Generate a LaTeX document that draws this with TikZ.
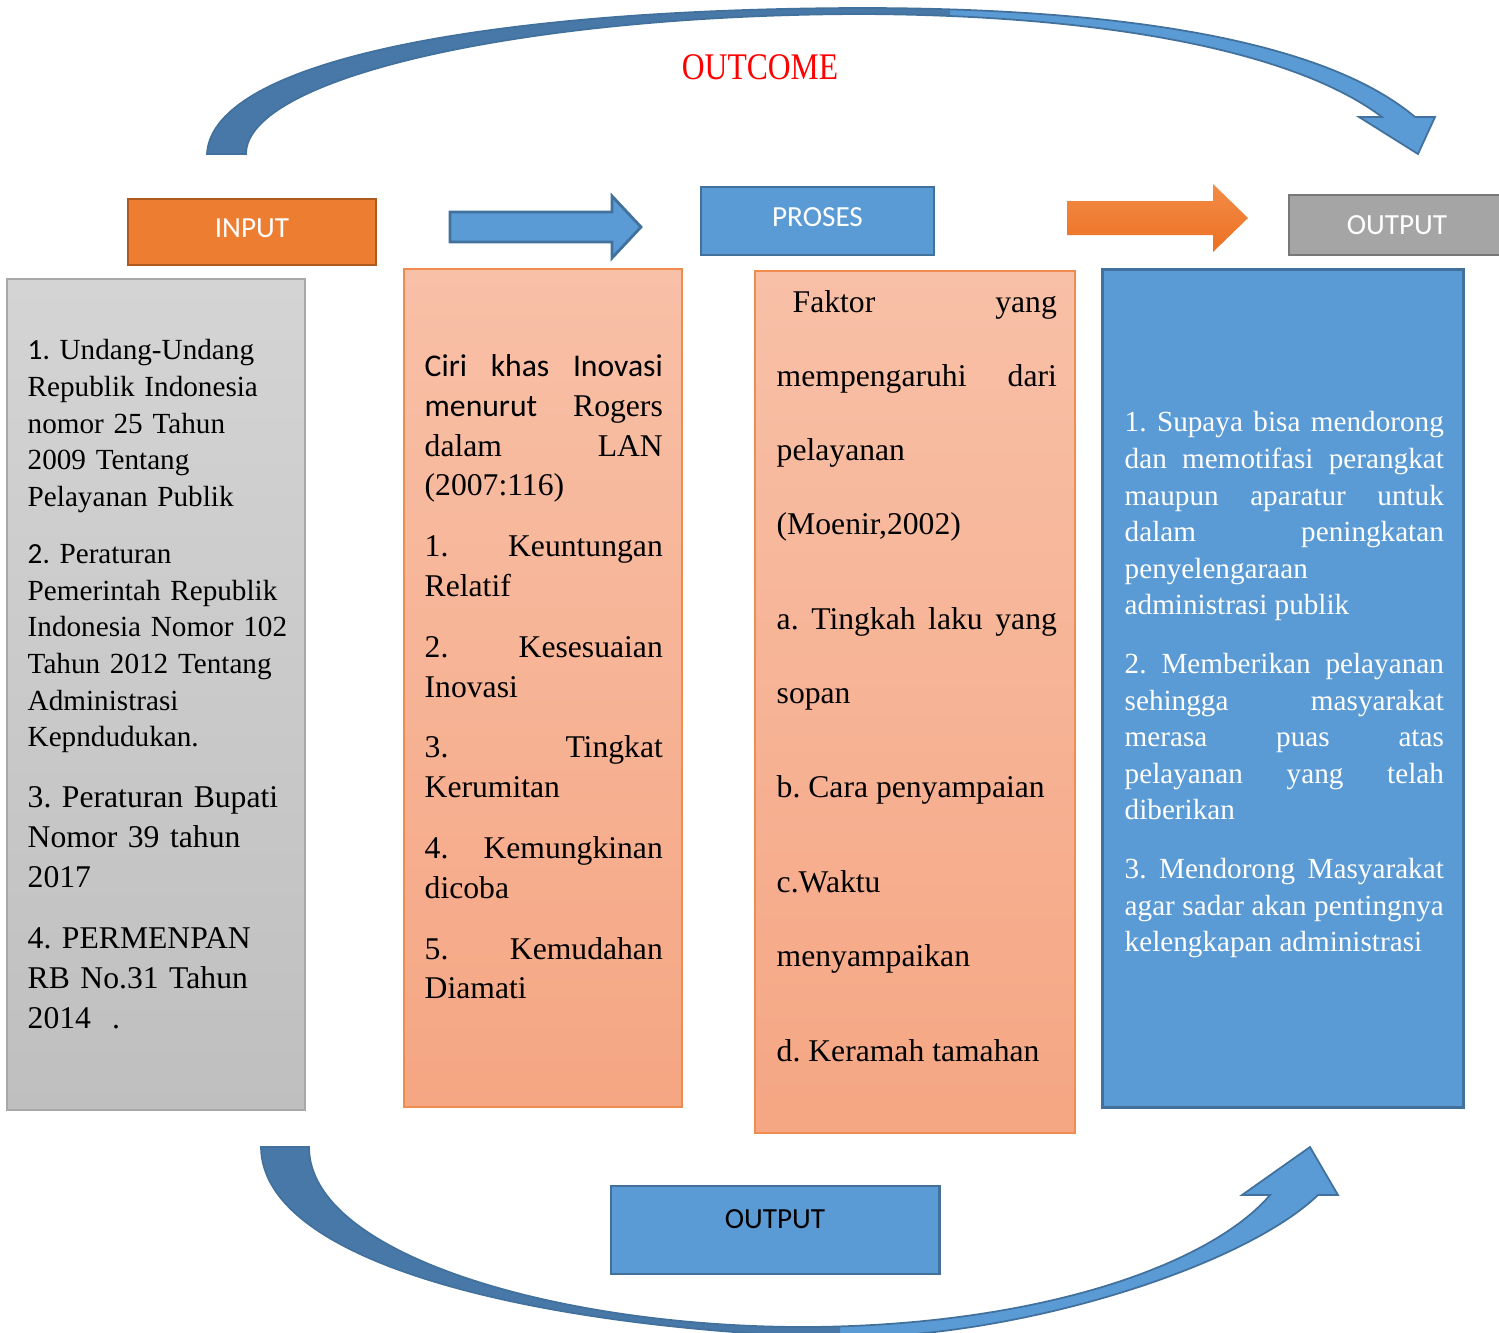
\documentclass[tikz,border=0pt]{standalone}
\usepackage{fontspec}
\setmainfont{Liberation Serif}
\newfontfamily\calibri{Carlito}
\newfontfamily\narrowserif[FakeStretch=0.84]{Liberation Serif}
\usetikzlibrary{positioning}

\definecolor{BoxBlue}{RGB}{91,155,213}
\definecolor{BoxBlueLine}{RGB}{65,113,156}
\definecolor{ArcDark}{RGB}{71,120,168}
\definecolor{BoxOrange}{RGB}{237,125,49}
\definecolor{BoxOrangeLine}{RGB}{174,90,33}
\definecolor{BoxGray}{RGB}{165,165,165}
\definecolor{BoxGrayLine}{RGB}{120,120,120}
\definecolor{GrayTop}{RGB}{212,212,212}
\definecolor{GrayBottom}{RGB}{191,191,191}
\definecolor{GrayLine}{RGB}{168,168,168}
\definecolor{PeachTop}{RGB}{248,192,167}
\definecolor{PeachBottom}{RGB}{245,166,131}
\definecolor{PeachLine}{RGB}{241,140,80}
\definecolor{ArrowTop}{RGB}{243,140,70}
\definecolor{ArrowBottom}{RGB}{236,112,34}

\newcommand*\smalltext{\fontsize{8.3}{10.4}\selectfont}
\newcommand*\midtext{\fontsize{9}{11.3}\selectfont}
\newcommand*\widetext{\fontsize{9}{21}\selectfont}
\tolerance=10000
\frenchspacing

% the two curved arrows, in pixel units of the picture
\newcommand*\topband{(207,154) .. controls (212,60) and (490,9) .. (860,8)
  .. controls (1140,8) and (1330,45) .. (1415,117) -- (1435,117) -- (1418,154)
  -- (1359,117) -- (1382,117) .. controls (1300,55) and (1120,15) .. (860,14)
  .. controls (520,15) and (246,78) .. (246,154) -- cycle}
\newcommand*\bottomband{(261,1147) .. controls (262,1260) and (520,1325) .. (820,1337)
  .. controls (1000,1344) and (1240,1270) .. (1318,1195) -- (1338,1195) -- (1310,1147)
  -- (1242,1195) -- (1270,1195) .. controls (1210,1265) and (1040,1325) .. (810,1327)
  .. controls (560,1328) and (309,1255) .. (309,1147) -- cycle}

\tikzset{
  headbox/.style={draw, line width=0.8pt, text=white, font=\calibri\fontsize{8.3}{10}\selectfont},
  listbox/.style={draw, line width=0.5pt},
  para/.style={anchor=north west, inner sep=0pt, text width=#1, align=left},
  justpara/.style={para=#1, align=justify},
}

\begin{document}
\frenchspacing
\begin{tikzpicture}[x=0.01cm, y=-0.01cm]
\useasboundingbox (0,0) rectangle (1499,1332);
\clip (0,0) rectangle (1499,1332);

% curved arrows
\fill[BoxBlue] \topband;
\begin{scope}
  \clip (0,0) rectangle (950,170);
  \fill[ArcDark] \topband;
\end{scope}
\draw[BoxBlueLine, line width=0.5pt] \topband;

\fill[BoxBlue] \bottomband;
\begin{scope}
  \clip (0,1100) rectangle (840,1340);
  \fill[ArcDark] \bottomband;
\end{scope}
\draw[BoxBlueLine, line width=0.5pt] \bottomband;

\node[text=red, font=\narrowserif\fontsize{10.7}{12}\selectfont] (outcome) at (760,67) {OUTCOME};

% header boxes
\node[headbox, fill=BoxOrange, draw=BoxOrangeLine, minimum width=2.48cm, minimum height=0.66cm, text height=6pt, text depth=2.6pt] (input) at (252,232) {INPUT};
\node[headbox, fill=BoxBlue, draw=BoxBlueLine, minimum width=2.33cm, minimum height=0.68cm, text height=6pt, text depth=3pt] (proses) at (817.5,221) {PROSES};
\node[headbox, fill=BoxGray, draw=BoxGrayLine, minimum width=2.16cm, minimum height=0.6cm] (output) at (1397,225) {OUTPUT};
\node[headbox, fill=BoxBlue, draw=BoxBlueLine, text=black, minimum width=3.28cm, minimum height=0.88cm, text height=6pt, text depth=6.8pt] (outputbottom) at (775,1230) {OUTPUT};

% block arrows
\draw[BoxBlueLine, fill=BoxBlue, line width=0.8pt] (450,212) -- (612,212) -- (612,196) -- (641,227) -- (612,258) -- (612,242) -- (450,242) -- cycle;
\shade[top color=ArrowTop, bottom color=ArrowBottom] (1067,201) -- (1213,201) -- (1213,184) -- (1248,218) -- (1213,252) -- (1213,235) -- (1067,235) -- cycle;

% the four columns
\node[listbox, draw=GrayLine, top color=GrayTop, bottom color=GrayBottom, minimum width=2.98cm, minimum height=8.31cm] (law) at (156,694.5) {};
\node[listbox, draw=PeachLine, top color=PeachTop, bottom color=PeachBottom, minimum width=2.78cm, minimum height=8.38cm] (inovasi) at (543,688) {};
\node[listbox, draw=PeachLine, top color=PeachTop, bottom color=PeachBottom, minimum width=3.2cm, minimum height=8.62cm] (faktor) at (915,702) {};
\node[listbox, draw=BoxBlueLine, fill=BoxBlue, line width=0.8pt, minimum width=3.6cm, minimum height=8.37cm] (tujuan) at (1283,688.5) {};

% input column
\node[para=2.7cm, font=\smalltext] (law1) at (27,339) {{\calibri 1.} Undang-Undang\\ Republik Indonesia\\ nomor 25 Tahun\\ 2009 Tentang\\ Pelayanan Publik};
\node[para=2.7cm, font=\smalltext] (law2) at (27,544) {{\calibri 2.} Peraturan\\ Pemerintah Republik\\ Indonesia Nomor 102\\ Tahun 2012 Tentang\\ Administrasi\\ Kepndudukan.};
\node[para=2.7cm, font=\midtext] (law3) at (27,786) {3. Peraturan Bupati\\ Nomor 39 tahun\\ 2017};
\node[para=2.7cm, font=\midtext] (law4) at (27,927) {4. PERMENPAN\\ RB No.31 Tahun\\ 2014~~.};

% process columns
\node[justpara=2.38cm, font=\midtext] (inovasitext) at (424,354) {{\calibri Ciri khas Inovasi}\linebreak {\calibri menurut} Rogers\linebreak dalam LAN\linebreak (2007:116)\\[6pt]
  1. Keuntungan\linebreak Relatif\\[6pt]
  2. Kesesuaian\linebreak Inovasi\\[6pt]
  3. Tingkat\linebreak Kerumitan\\[6pt]
  4. Kemungkinan\linebreak dicoba\\[6pt]
  5. Kemudahan\linebreak Diamati};

\node[justpara=2.8cm, font=\widetext] (faktortext) at (776,290) {\hspace*{0.16cm}Faktor yang\linebreak mempengaruhi dari\linebreak pelayanan\\ (Moenir,2002)\\[6pt]
  a. Tingkah laku yang\linebreak sopan\\[6pt]
  b. Cara penyampaian\\[6pt]
  c.Waktu\\ menyampaikan\\[6pt]
  d. Keramah tamahan};

% output column
\node[justpara=3.19cm, font=\smalltext, text=white] (tujuantext) at (1124,411) {1. Supaya bisa mendorong\linebreak dan memotifasi perangkat\linebreak maupun aparatur untuk\linebreak dalam peningkatan\linebreak penyelengaraan\\ administrasi publik\\[6.3pt]
  2. Memberikan pelayanan\linebreak sehingga masyarakat\linebreak merasa puas atas\linebreak pelayanan yang telah\linebreak diberikan\\[6.3pt]
  3. Mendorong Masyarakat\linebreak agar sadar akan pentingnya\linebreak kelengkapan administrasi};

\end{tikzpicture}
\end{document}
